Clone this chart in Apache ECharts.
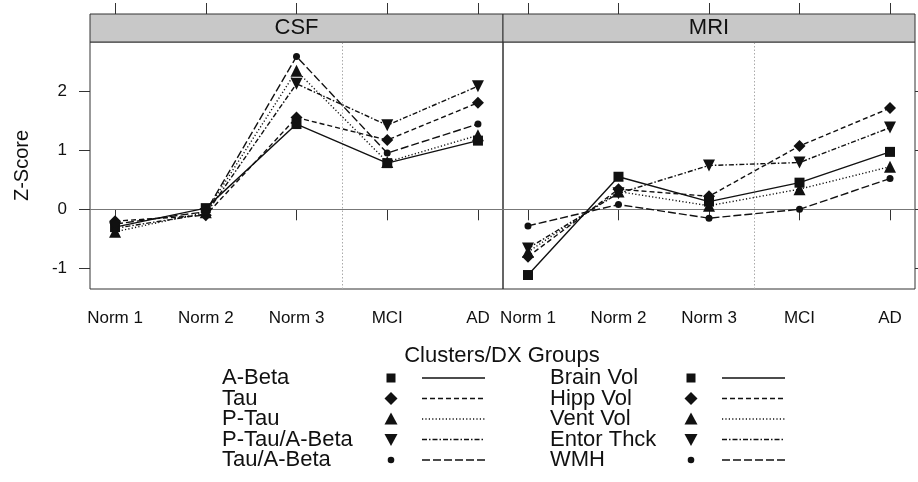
<!DOCTYPE html>
<html>
<head>
<meta charset="utf-8">
<script src="https://cdn.jsdelivr.net/npm/echarts@6/dist/echarts.min.js"></script>
<style>
html,body{margin:0;padding:0;background:#fff;}
#chart{width:918px;height:482px;}
</style>
</head>
<body>
<div id="chart"></div>
<script>
// ---- data ----
const categories = ['Norm 1', 'Norm 2', 'Norm 3', 'MCI', 'AD'];
const yTicks = [-1, 0, 1, 2];
const panelTitles = ['CSF', 'MRI'];
const legendTitle = 'Clusters/DX Groups';

const csfNames = ['A-Beta', 'Tau', 'P-Tau', 'P-Tau/A-Beta', 'Tau/A-Beta'];
const aBeta     = [-0.30,  0.02, 1.44, 0.78, 1.16];
const tau       = [-0.20, -0.10, 1.55, 1.17, 1.80];
const pTau      = [-0.38, -0.05, 2.34, 0.80, 1.25];
const pTauABeta = [-0.32, -0.08, 2.12, 1.42, 2.08];
const tauABeta  = [-0.25, -0.04, 2.58, 0.95, 1.44];

const mriNames = ['Brain Vol', 'Hipp Vol', 'Vent Vol', 'Entor Thck', 'WMH'];
const brainVol  = [-1.11, 0.55, 0.13, 0.45, 0.97];
const hippVol   = [-0.80, 0.34, 0.22, 1.07, 1.71];
const ventVol   = [-0.72, 0.30, 0.06, 0.34, 0.72];
const entorThck = [-0.66, 0.27, 0.74, 0.79, 1.38];
const wmh       = [-0.28, 0.08, -0.15, 0.00, 0.52];

// ---- styles ----
const INK = '#111';
const FONT = 'Liberation Sans, Arial, Helvetica, sans-serif';
const symbols = ['rect', 'diamond', 'triangle', 'triangle', 'circle'];
const symbolRot = [0, 0, 0, 180, 0];
const symbolSizes = [10, 12, 12, 12, 7];
const dashes = ['solid', [5, 3], [1.2, 2.2], [5, 2, 1.5, 2], [8, 3]];

const xMin = 1 - 25 / 90.6, xMax = 5 + 25 / 90.6;
const yMin = -1.346, yMax = 2.826;

function makeSeries(name, values, k, gridIdx, extra) {
  const s = {
    name: name,
    type: 'line',
    xAxisIndex: gridIdx * 2,
    yAxisIndex: gridIdx,
    data: values.map((v, i) => [i + 1, v]),
    symbol: symbols[k],
    symbolRotate: symbolRot[k],
    symbolSize: symbolSizes[k],
    itemStyle: { color: INK },
    lineStyle: { color: INK, width: 1.4, type: dashes[k] },
    silent: true,
    z: 3
  };
  return Object.assign(s, extra || {});
}

const refLines = {
  markLine: {
    silent: true, symbol: 'none', label: { show: false }, z: 1,
    data: [
      { yAxis: 0, lineStyle: { color: '#777', width: 1, type: 'solid' } },
      { xAxis: 3.5, lineStyle: { color: '#aaa', width: 1, type: [1.5, 2] } }
    ]
  }
};

const csfData = [aBeta, tau, pTau, pTauABeta, tauABeta];
const mriData = [brainVol, hippVol, ventVol, entorThck, wmh];
const series = [];
csfData.forEach((d, k) => series.push(makeSeries(csfNames[k], d, k, 0, k === 0 ? refLines : null)));
mriData.forEach((d, k) => series.push(makeSeries(mriNames[k], d, k, 1, k === 0 ? refLines : null)));

const grids = [
  { left: 90, top: 42, width: 413, height: 247 },
  { left: 503, top: 42, width: 412, height: 247 }
];

function bottomX(g) {
  return {
    type: 'value', gridIndex: g, position: 'bottom', min: xMin, max: xMax,
    splitLine: { show: false },
    axisLine: { show: false },
    axisTick: { show: true, customValues: [1, 2, 3, 4, 5], length: 11, lineStyle: { color: '#333', width: 1 } },
    axisLabel: { show: true, customValues: [1, 2, 3, 4, 5], margin: 21, color: '#111', fontSize: 17, fontFamily: FONT,
      formatter: v => categories[Math.round(v) - 1] }
  };
}
function topX(g) {
  return {
    type: 'value', gridIndex: g, position: 'top', offset: 28, min: xMin, max: xMax,
    splitLine: { show: false },
    axisLine: { show: false },
    axisTick: { show: true, customValues: [1, 2, 3, 4, 5], length: 11, lineStyle: { color: '#333', width: 1 } },
    axisLabel: { show: false }
  };
}

const strips = [];
grids.forEach((g, i) => {
  strips.push({
    type: 'rect', silent: true, z: 10,
    shape: { x: g.left, y: 14, width: g.width, height: 28 },
    style: { fill: '#c8c8c8', stroke: '#333', lineWidth: 1 }
  });
  strips.push({
    type: 'text', silent: true, z: 11,
    x: g.left + g.width / 2, y: 28,
    style: { text: panelTitles[i], fill: '#111', font: '22px ' + FONT, align: 'center', verticalAlign: 'middle' }
  });
});

// legend (drawn as graphic)
const legendEls = [];
legendEls.push({
  type: 'text', silent: true, x: 502, y: 356,
  style: { text: legendTitle, fill: '#111', font: '22px ' + FONT, align: 'center', verticalAlign: 'middle' }
});
function markerEl(k, cx, cy) {
  if (k === 0) return { type: 'rect', shape: { x: cx - 4.5, y: cy - 4.5, width: 9, height: 9 }, style: { fill: INK } };
  if (k === 1) return { type: 'polygon', shape: { points: [[cx, cy - 6.5], [cx + 6.5, cy], [cx, cy + 6.5], [cx - 6.5, cy]] }, style: { fill: INK } };
  if (k === 2) return { type: 'polygon', shape: { points: [[cx, cy - 6.5], [cx + 6.5, cy + 5.5], [cx - 6.5, cy + 5.5]] }, style: { fill: INK } };
  if (k === 3) return { type: 'polygon', shape: { points: [[cx, cy + 6.5], [cx + 6.5, cy - 5.5], [cx - 6.5, cy - 5.5]] }, style: { fill: INK } };
  return { type: 'circle', shape: { cx: cx, cy: cy, r: 3.3 }, style: { fill: INK } };
}
const legendCols = [
  { names: csfNames, x: 222, mx: 391, lx: 422 },
  { names: mriNames, x: 550, mx: 691, lx: 722 }
];
legendCols.forEach(col => {
  col.names.forEach((nm, k) => {
    const cy = 378 + k * 20.5;
    legendEls.push({ type: 'text', silent: true, x: col.x, y: cy,
      style: { text: nm, fill: '#111', font: '22px ' + FONT, align: 'left', verticalAlign: 'middle' } });
    const m = markerEl(k, col.mx, cy);
    m.silent = true;
    legendEls.push(m);
    legendEls.push({ type: 'line', silent: true,
      shape: { x1: col.lx, y1: cy, x2: col.lx + 63, y2: cy },
      style: { stroke: INK, lineWidth: 1.3, lineDash: dashes[k] === 'solid' ? null : dashes[k] } });
  });
});

const option = {
  animation: false,
  backgroundColor: '#fff',
  grid: grids.map(g => Object.assign({ show: true, borderColor: '#333', borderWidth: 1, backgroundColor: 'transparent', containLabel: false, outerBoundsMode: 'none' }, g)),
  xAxis: [bottomX(0), topX(0), bottomX(1), topX(1)],
  yAxis: [
    {
      type: 'value', gridIndex: 0, position: 'left', min: yMin, max: yMax,
      name: 'Z-Score', nameLocation: 'middle', nameRotate: 90, nameGap: 58,
      nameTextStyle: { color: '#111', fontSize: 20, fontFamily: FONT },
      splitLine: { show: false }, axisLine: { show: false },
      axisTick: { show: true, customValues: yTicks, length: 11, lineStyle: { color: '#333', width: 1 } },
      axisLabel: { show: true, customValues: yTicks, margin: 23, color: '#111', fontSize: 17, fontFamily: FONT }
    },
    {
      type: 'value', gridIndex: 1, position: 'right', min: yMin, max: yMax,
      splitLine: { show: false }, axisLine: { show: false },
      axisTick: { show: true, customValues: yTicks, length: 11, lineStyle: { color: '#333', width: 1 } },
      axisLabel: { show: false }
    }
  ],
  series: series,
  graphic: strips.concat(legendEls)
};

const chart = echarts.init(document.getElementById('chart'), null, { renderer: 'canvas' });
chart.setOption(option);
</script>
</body>
</html>
